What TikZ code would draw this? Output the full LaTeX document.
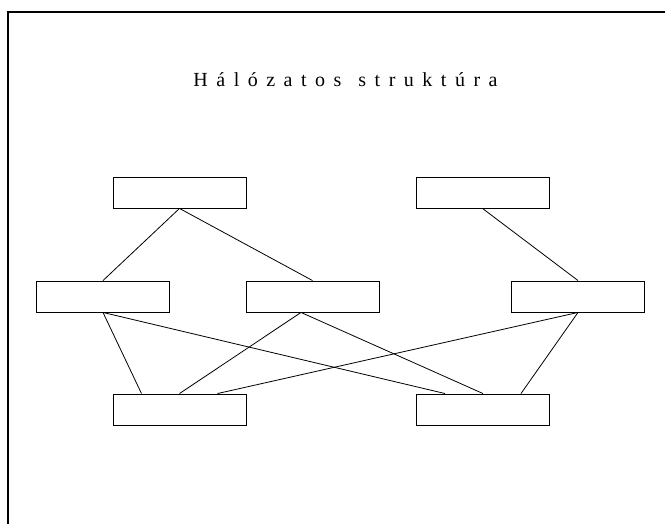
\documentclass[tikz,border=0pt]{standalone}
\usepackage{fontspec}
\setmainfont{Liberation Serif}
\begin{document}
\begin{tikzpicture}[x=1pt,y=-1pt,
  box/.style={draw,line width=0.9pt,minimum width=133pt,minimum height=31pt,inner sep=0pt,anchor=center},
  link/.style={line width=0.8pt},
  frame/.style={line width=1.2pt}]
\useasboundingbox (0,0) rectangle (665,524);
\draw[frame] (8,530) -- (8,12) -- (670,12);
\node[anchor=base,inner sep=0pt,font=\fontsize{20}{24}\selectfont] (title) at (345.5,87)
  {\spaceskip=8.5pt H á l ó z a t o s\hspace{17pt}s t r u k t ú r a};
\node[box] (TL) at (179.5,192.5) {};
\node[box] (TR) at (482.5,192.5) {};
\node[box] (ML) at (103,296.5) {};
\node[box] (MC) at (312.5,296.5) {};
\node[box] (MR) at (578,296.5) {};
\node[box] (BL) at (179.5,409.5) {};
\node[box] (BR) at (483,409.5) {};
\draw[link] (TL.south) -- (ML.north);
\draw[link] (TL.south) -- (MC.north);
\draw[link] (TR.south) -- (MR.north);
\draw[link] (ML.south) -- ([xshift=-38pt]BL.north);
\draw[link] (ML.south) -- ([xshift=-38pt]BR.north);
\draw[link] ([xshift=-11.5pt]MC.south) -- (BL.north);
\draw[link] ([xshift=-11.5pt]MC.south) -- (BR.north);
\draw[link] (MR.south) -- ([xshift=38pt]BL.north);
\draw[link] (MR.south) -- ([xshift=38pt]BR.north);
\end{tikzpicture}
\end{document}
